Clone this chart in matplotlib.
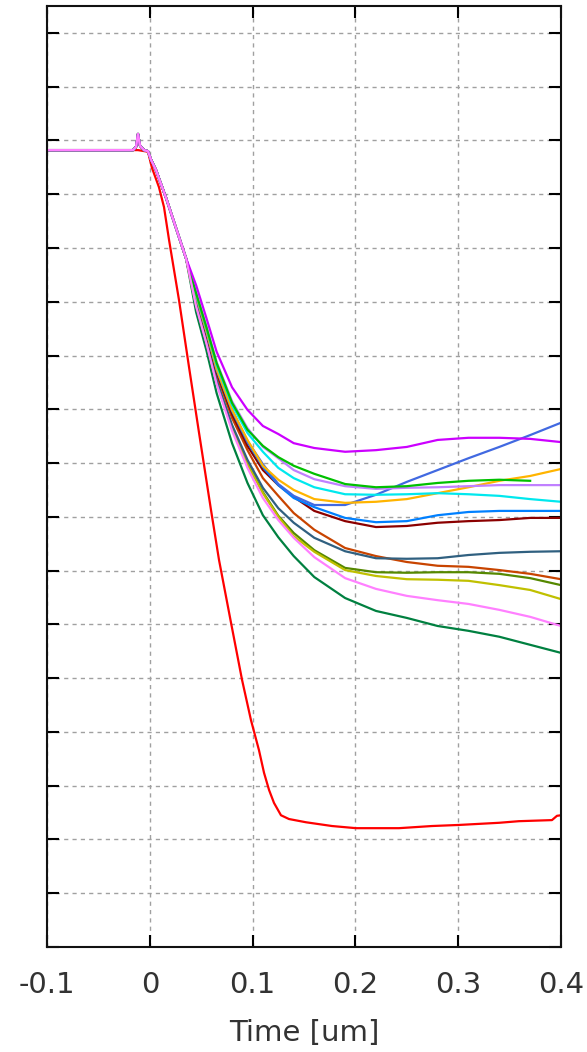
#!/usr/bin/env python3
# -*- coding: utf-8 -*-

"""
Step response traces: 15 runs settling together plus one fast run (red).
Writes out.png.
"""

import numpy as np
import matplotlib
matplotlib.use("Agg")
import matplotlib.pyplot as plt

# shared start of every trace: flat baseline, trigger glitch, first part of the drop
t_start = [-0.1, -0.0163, -0.0134, -0.0115, -0.0095, -0.0056, -0.0018,
           0.0012, 0.006, 0.0158, 0.0255, 0.0352]
v_start = [14.82, 14.82, 14.88, 15.12, 14.90, 14.82, 14.80,
           14.64, 14.45, 13.93, 13.37, 12.81]

# sample times once the traces separate
t_tail = [0.045, 0.055, 0.065, 0.08, 0.095, 0.11, 0.125, 0.14, 0.16,
          0.19, 0.22, 0.25, 0.28, 0.31, 0.34, 0.37, 0.4]

v_magenta = [12.31, 11.70, 11.07, 10.41, 9.99, 9.69, 9.54, 9.37, 9.28,
             9.21, 9.24, 9.30, 9.43, 9.47, 9.47, 9.45, 9.39]
v_lavender = [12.18, 11.55, 10.88, 10.15, 9.65, 9.30, 9.09, 8.87, 8.70,
              8.57, 8.52, 8.54, 8.55, 8.57, 8.59, 8.59, 8.59]
v_green = [12.16, 11.53, 10.86, 10.12, 9.62, 9.32, 9.11, 8.95, 8.80,
           8.61, 8.55, 8.57, 8.63, 8.67, 8.69, 8.67, np.nan]
v_cyan = [12.14, 11.51, 10.82, 10.08, 9.56, 9.21, 8.91, 8.72, 8.55,
          8.42, 8.41, 8.42, 8.44, 8.42, 8.39, 8.33, 8.28]
v_orange = [12.11, 11.46, 10.75, 9.99, 9.43, 8.95, 8.69, 8.50, 8.33,
            8.26, 8.28, 8.33, 8.44, 8.55, 8.67, 8.76, 8.89]
v_royal = [12.11, 11.46, 10.75, 9.99, 9.41, 8.98, 8.61, 8.39, 8.22,
           8.22, 8.41, 8.65, 8.87, 9.09, 9.30, 9.52, 9.75]
v_dodger = [12.09, 11.44, 10.73, 9.97, 9.39, 8.93, 8.59, 8.35, 8.18,
            7.98, 7.90, 7.92, 8.03, 8.09, 8.11, 8.11, 8.11]
v_darkred = [12.07, 11.40, 10.69, 9.91, 9.32, 8.87, 8.59, 8.37, 8.11,
             7.92, 7.81, 7.83, 7.89, 7.92, 7.94, 7.98, 7.98]
v_rust = [12.03, 11.36, 10.64, 9.84, 9.24, 8.72, 8.39, 8.07, 7.76,
          7.42, 7.27, 7.16, 7.09, 7.07, 7.01, 6.94, 6.84]
v_steel = [11.98, 11.29, 10.54, 9.71, 9.06, 8.54, 8.16, 7.89, 7.61,
           7.36, 7.23, 7.22, 7.23, 7.29, 7.33, 7.35, 7.36]
v_olive = [11.94, 11.27, 10.51, 9.65, 9.00, 8.46, 8.02, 7.70, 7.38,
           7.05, 6.97, 6.96, 6.97, 6.97, 6.94, 6.86, 6.73]
v_yellow = [11.94, 11.25, 10.51, 9.65, 8.98, 8.44, 8.00, 7.64, 7.35,
            7.01, 6.90, 6.84, 6.83, 6.81, 6.73, 6.64, 6.47]
v_pink = [11.92, 11.23, 10.47, 9.60, 8.91, 8.35, 7.94, 7.61, 7.25,
          6.86, 6.66, 6.53, 6.45, 6.38, 6.27, 6.14, 5.97]
v_darkgreen = [11.81, 11.10, 10.30, 9.37, 8.63, 8.03, 7.62, 7.27, 6.88,
               6.49, 6.25, 6.12, 5.97, 5.88, 5.77, 5.62, 5.47]

# fast run, own time base
t_red = [-0.1, -0.0115, -0.0018, 0.0021, 0.0089, 0.0138, 0.0187, 0.0284,
         0.0381, 0.0479, 0.0595, 0.0673, 0.079, 0.0897, 0.0984, 0.1062,
         0.1111, 0.116, 0.1208, 0.1276, 0.1354, 0.1519, 0.1772, 0.2006,
         0.2424, 0.2745, 0.3008, 0.3397, 0.3591, 0.3912, 0.3961, 0.4]
v_red = [14.82, 14.82, 14.79, 14.49, 14.13, 13.76, 13.15, 12.03,
         10.79, 9.56, 8.13, 7.20, 6.03, 4.97, 4.22, 3.66,
         3.24, 2.92, 2.68, 2.45, 2.38, 2.32, 2.25, 2.21,
         2.21, 2.25, 2.27, 2.31, 2.34, 2.36, 2.44, 2.45]

x_ticks = [-0.1, 0.0, 0.1, 0.2, 0.3, 0.4]
x_tick_labels = ["-0.1", "0", "0.1", "0.2", "0.3", "0.4"]
y_ticks = list(range(0, 18))

traces = [
    (v_darkgreen, "#008040"),
    (v_olive, "#558800"),
    (v_yellow, "#c0c000"),
    (v_rust, "#c84400"),
    (v_steel, "#306080"),
    (v_darkred, "#8b0000"),
    (v_dodger, "#0080ff"),
    (v_royal, "#4169e1"),
    (v_orange, "#ffb400"),
    (v_cyan, "#00e8ee"),
    (v_lavender, "#c080ff"),
    (v_green, "#00c000"),
    (v_magenta, "#cc00ff"),
    (v_pink, "#ff80ff"),
]


def main():
    plt.rcParams["font.family"] = "DejaVu Sans"

    fig = plt.figure(figsize=(5.87, 10.52), dpi=100)
    ax = fig.add_axes([0.0801, 0.0998, 0.8756, 0.8945])

    ax.plot(t_red, v_red, color="#ff0000", lw=1.6)
    for vals, col in traces:
        ax.plot(t_start + t_tail, v_start + vals, color=col, lw=1.6)

    ax.set_xlim(-0.1, 0.4)
    ax.set_ylim(0, 17.5)
    ax.set_xticks(x_ticks)
    ax.set_xticklabels(x_tick_labels)
    ax.set_yticks(y_ticks)
    ax.set_yticklabels([])

    ax.set_axisbelow(True)
    ax.grid(True, color="#a0a0a0", linestyle=(0, (3, 3)), linewidth=1.0)

    for sp in ax.spines.values():
        sp.set_linewidth(1.5)
        sp.set_color("#111111")
    ax.tick_params(direction="in", length=8.5, width=1.5, top=True, right=True,
                   labelsize=21, labelcolor="#333333", pad=17)

    ax.set_xlabel("Time [um]", fontsize=21, color="#333333", labelpad=15)

    fig.savefig("out.png", dpi=100)
    plt.close(fig)


if __name__ == "__main__":
    main()
